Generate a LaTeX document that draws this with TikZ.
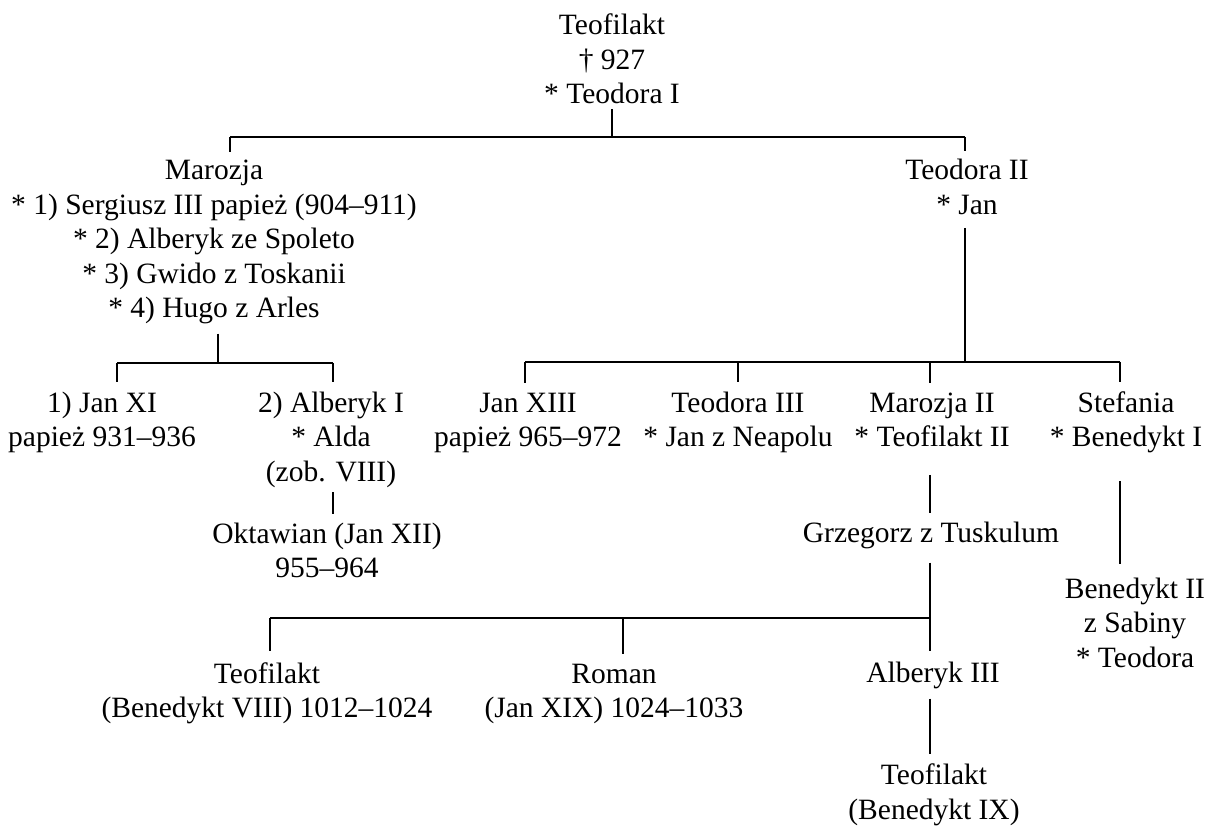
\documentclass[tikz,border=0pt]{standalone}
\usepackage{fontspec}
\setmainfont{Liberation Serif}
\begin{document}
\begin{tikzpicture}[x=1pt,y=-1pt,
  person/.style={align=center, anchor=base, inner sep=0pt,
                 font=\fontsize{29.5}{34.5}\selectfont},
  link/.style={line width=1.1pt}]
\useasboundingbox (0,0) rectangle (1211,826);

% --- people (each node sits on the baseline of its last line) ---
\node[person] (top)   at (612,104)   {Teofilakt\\† 927\\* Teodora I};
\node[person] (maro)  at (214,318)   {Marozja\\* 1) Sergiusz III papież (904–911)\\* 2) Alberyk ze Spoleto\\* 3) Gwido z Toskanii\\* 4) Hugo z Arles};
\node[person] (teo2)  at (967,214.5) {Teodora II\\* Jan};
\node[person] (jan11) at (102,446.5) {1) Jan XI\\papież 931–936};
\node[person] (alb1)  at (331,481)   {2) Alberyk I\\* Alda\\(zob. VIII)};
\node[person] (okt)   at (327,577.5) {Oktawian (Jan XII)\\955–964};
\node[person] (jan13) at (528,446.5) {Jan XIII\\papież 965–972};
\node[person] (teo3)  at (738,446.5) {Teodora III\\* Jan z Neapolu};
\node[person] (maro2) at (932,446.5) {Marozja II\\* Teofilakt II};
\node[person] (stef)  at (1126,446.5) {Stefania\\* Benedykt I};
\node[person] (grz)   at (931,542)   {Grzegorz z Tuskulum};
\node[person] (ben2)  at (1135,667)  {Benedykt II\\z Sabiny\\* Teodora};
\node[person] (teo8)  at (267,717.5) {Teofilakt\\(Benedykt VIII) 1012–1024};
\node[person] (roman) at (614,717.5) {Roman\\(Jan XIX) 1024–1033};
\node[person] (alb3)  at (933,682)   {Alberyk III};
\node[person] (teo9)  at (934,819)   {Teofilakt\\(Benedykt IX)};

% --- bus lines of each family ---
\coordinate (aL) at (230,137);  \coordinate (aR) at (965,137);
\coordinate (bL) at (117,363);  \coordinate (bR) at (333,363);
\coordinate (cL) at (525,362);  \coordinate (cR) at (1120,362);
\coordinate (c2) at (738,362);  \coordinate (c3) at (930,362);
\coordinate (dL) at (270,618);  \coordinate (dM) at (623,618);
\coordinate (dR) at (930,618);

% Teofilakt's children
\draw[link,shorten <=5pt] (top.south) -- (top.south |- aL);
\draw[link] (aL) -- (aR);
\draw[link,shorten >=8pt] (aL) -- (aL |- maro.north);
\draw[link,shorten >=8pt] (aR) -- (aR |- teo2.north);

% Marozja's children
\draw[link,shorten <=9pt] ([xshift=4pt]maro.south) -- ([xshift=4pt]maro.south |- bL);
\draw[link] (bL) -- (bR);
\draw[link,shorten >=9pt] (bL) -- (bL |- jan11.north);
\draw[link,shorten >=9pt] (bR) -- (bR |- alb1.north);
\draw[link,shorten <=5pt,shorten >=8pt] (alb1.south -| bR) -- (okt.north -| bR);

% Teodora II's children
\draw[link,shorten <=13pt] (teo2.south -| aR) -- (cL -| aR);
\draw[link] (cL) -- (cR);
\draw[link,shorten >=9pt] (cL) -- (cL |- jan13.north);
\draw[link,shorten >=9pt] (c2) -- (c2 |- teo3.north);
\draw[link,shorten >=9pt] (c3) -- (c3 |- maro2.north);
\draw[link,shorten >=9pt] (cR) -- (cR |- stef.north);

% later generations
\draw[link,shorten <=28pt,shorten >=8pt] (maro2.south -| c3) -- (grz.north -| c3);
\draw[link,shorten <=28pt,shorten >=13pt] (stef.south -| cR) -- (ben2.north -| cR);
\draw[link,shorten <=14pt,shorten >=10pt] (grz.south -| dR) -- (alb3.north -| dR);
\draw[link] (dL) -- (dR);
\draw[link,shorten >=11pt] (dL) -- (dL |- teo8.north);
\draw[link,shorten >=9pt] (dM) -- (dM |- roman.north);
\draw[link,shorten <=10pt,shorten >=10pt] (alb3.south -| dR) -- (teo9.north -| dR);
\end{tikzpicture}
\end{document}
